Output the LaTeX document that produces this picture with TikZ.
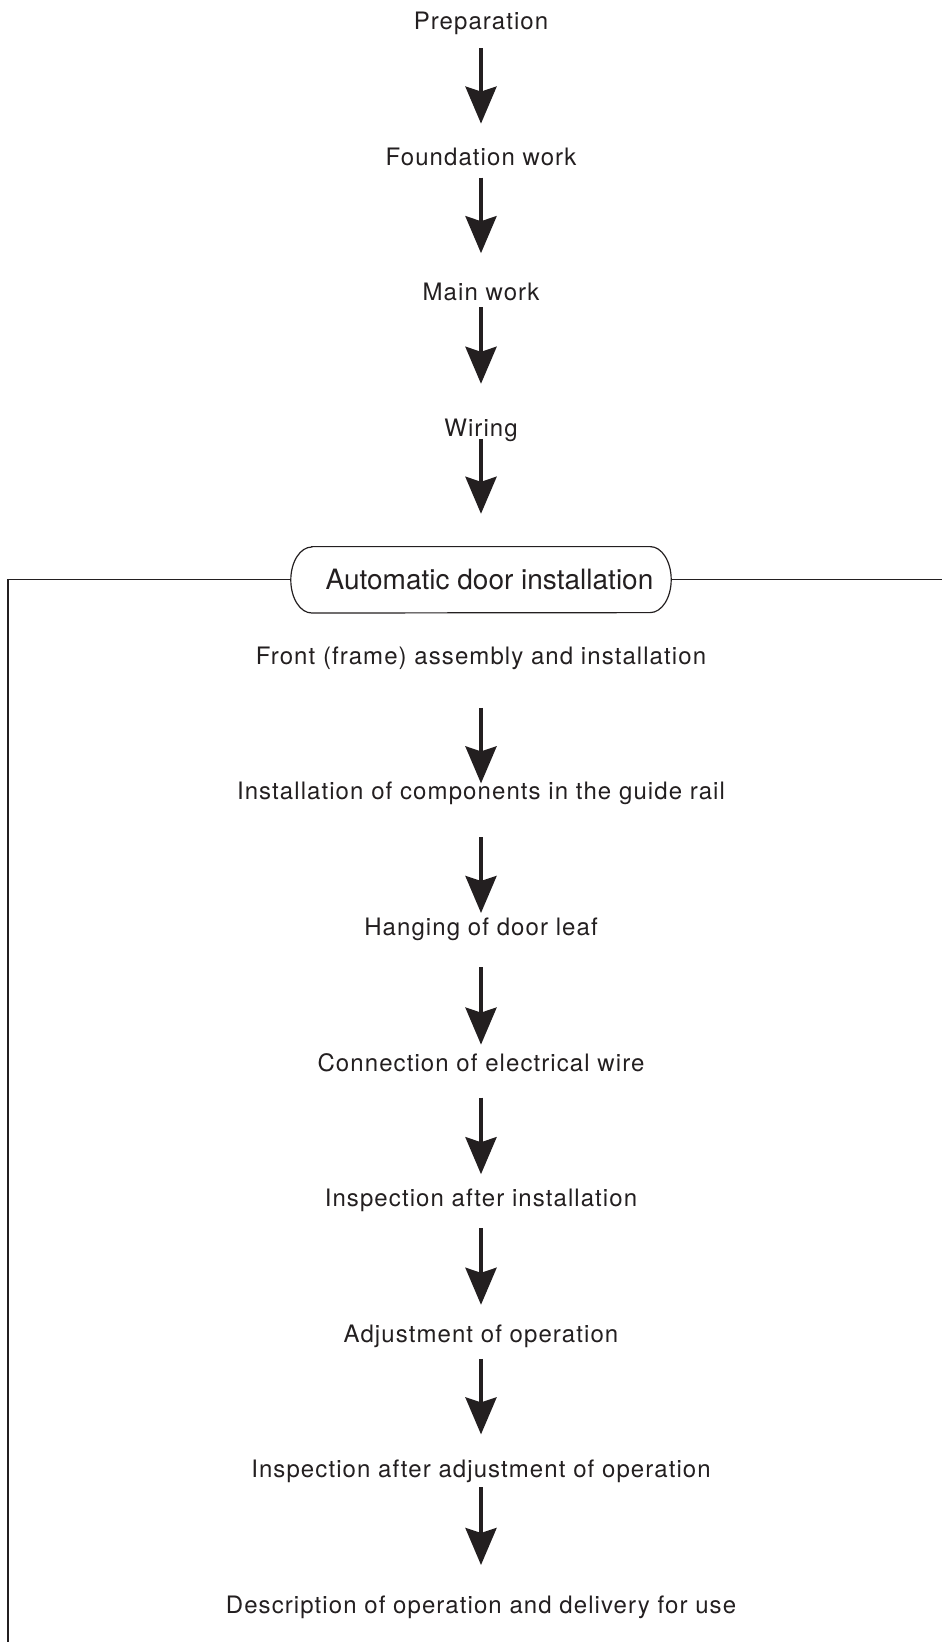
\documentclass[tikz,border=0pt]{standalone}
\usepackage{fontspec}
\setmainfont{TeX Gyre Heros}
\newfontfamily\stepfont{TeX Gyre Heros}[LetterSpace=4.5]
\usetikzlibrary{arrows.meta}
\usetikzlibrary{positioning}

\definecolor{ink}{HTML}{231F20}

\tikzset{
    stepbox/.style={rectangle, inner sep=0pt, text height=17pt, text depth=0pt, text=ink,
        font=\stepfont\fontsize{24}{28}\selectfont},
    titlebox/.style={rectangle, minimum width=380pt, minimum height=66pt, inner sep=0pt,
        text height=20pt, text depth=0pt, text=ink, font=\fontsize{28}{32}\selectfont},
    flow/.style={draw=ink, line width=4pt, -{Stealth[length=37pt, width=31pt, inset=5pt]}},
    frame/.style={draw=ink, line width=1.2pt}
}

\begin{document}
\begin{tikzpicture}[x=1pt, y=-1pt, node distance=135.6pt]
        \useasboundingbox (0,0) rectangle (942,1642);
        % steps before the door work
        \node[stepbox] at (481,21) (prep) {Preparation};
        \node[stepbox, below of = prep](found){Foundation work};
        \node[stepbox, below of = found](main){Main work};
        \node[stepbox, below of = main](wiring){Wiring};
        \node[titlebox, below of = wiring, node distance=152pt](install) {\hspace*{17pt}Automatic door installation};
        \draw[frame] ([xshift=21pt]install.north west) -- ([xshift=-21pt]install.north east)
            arc[start angle=90, end angle=-90, x radius=21pt, y radius=33pt]
            -- ([xshift=21pt]install.south west)
            arc[start angle=270, end angle=90, x radius=21pt, y radius=33pt] -- cycle;
        % door installation steps
        \node[stepbox, below of = install, node distance=76pt](front){Front (frame) assembly and installation};
        \node[stepbox, below of = front](rail){Installation of components in the guide rail};
        \node[stepbox, below of = rail](leaf){Hanging of door leaf};
        \node[stepbox, below of = leaf](wire){Connection of electrical wire};
        \node[stepbox, below of = wire](check){Inspection after installation};
        \node[stepbox, below of = check](adjust){Adjustment of operation};
        \node[stepbox, below of = adjust](recheck){Inspection after adjustment of operation};
        \node[stepbox, below of = recheck](deliver){Description of operation and delivery for use};
        \foreach \a/\b/\s/\e in {prep/found/27/33, found/main/21/39, main/wiring/15/44, wiring/install/11/66,
                front/rail/52/8, rail/leaf/46/14, leaf/wire/40/18, wire/check/35/24,
                check/adjust/30/29, adjust/recheck/25/35, recheck/deliver/18/40}
            \draw[flow] ([yshift=-\s pt]\a.center) -- ([yshift=\e pt]\b.center);
        % frame round the installation steps
        \coordinate (lowleft) at (8,1642);
        \coordinate (rightend) at (942,580);
        \draw[frame] (install.west) -| (lowleft);
        \draw[frame] (install.east) -- (install.east -| rightend);
    \end{tikzpicture}
\end{document}
